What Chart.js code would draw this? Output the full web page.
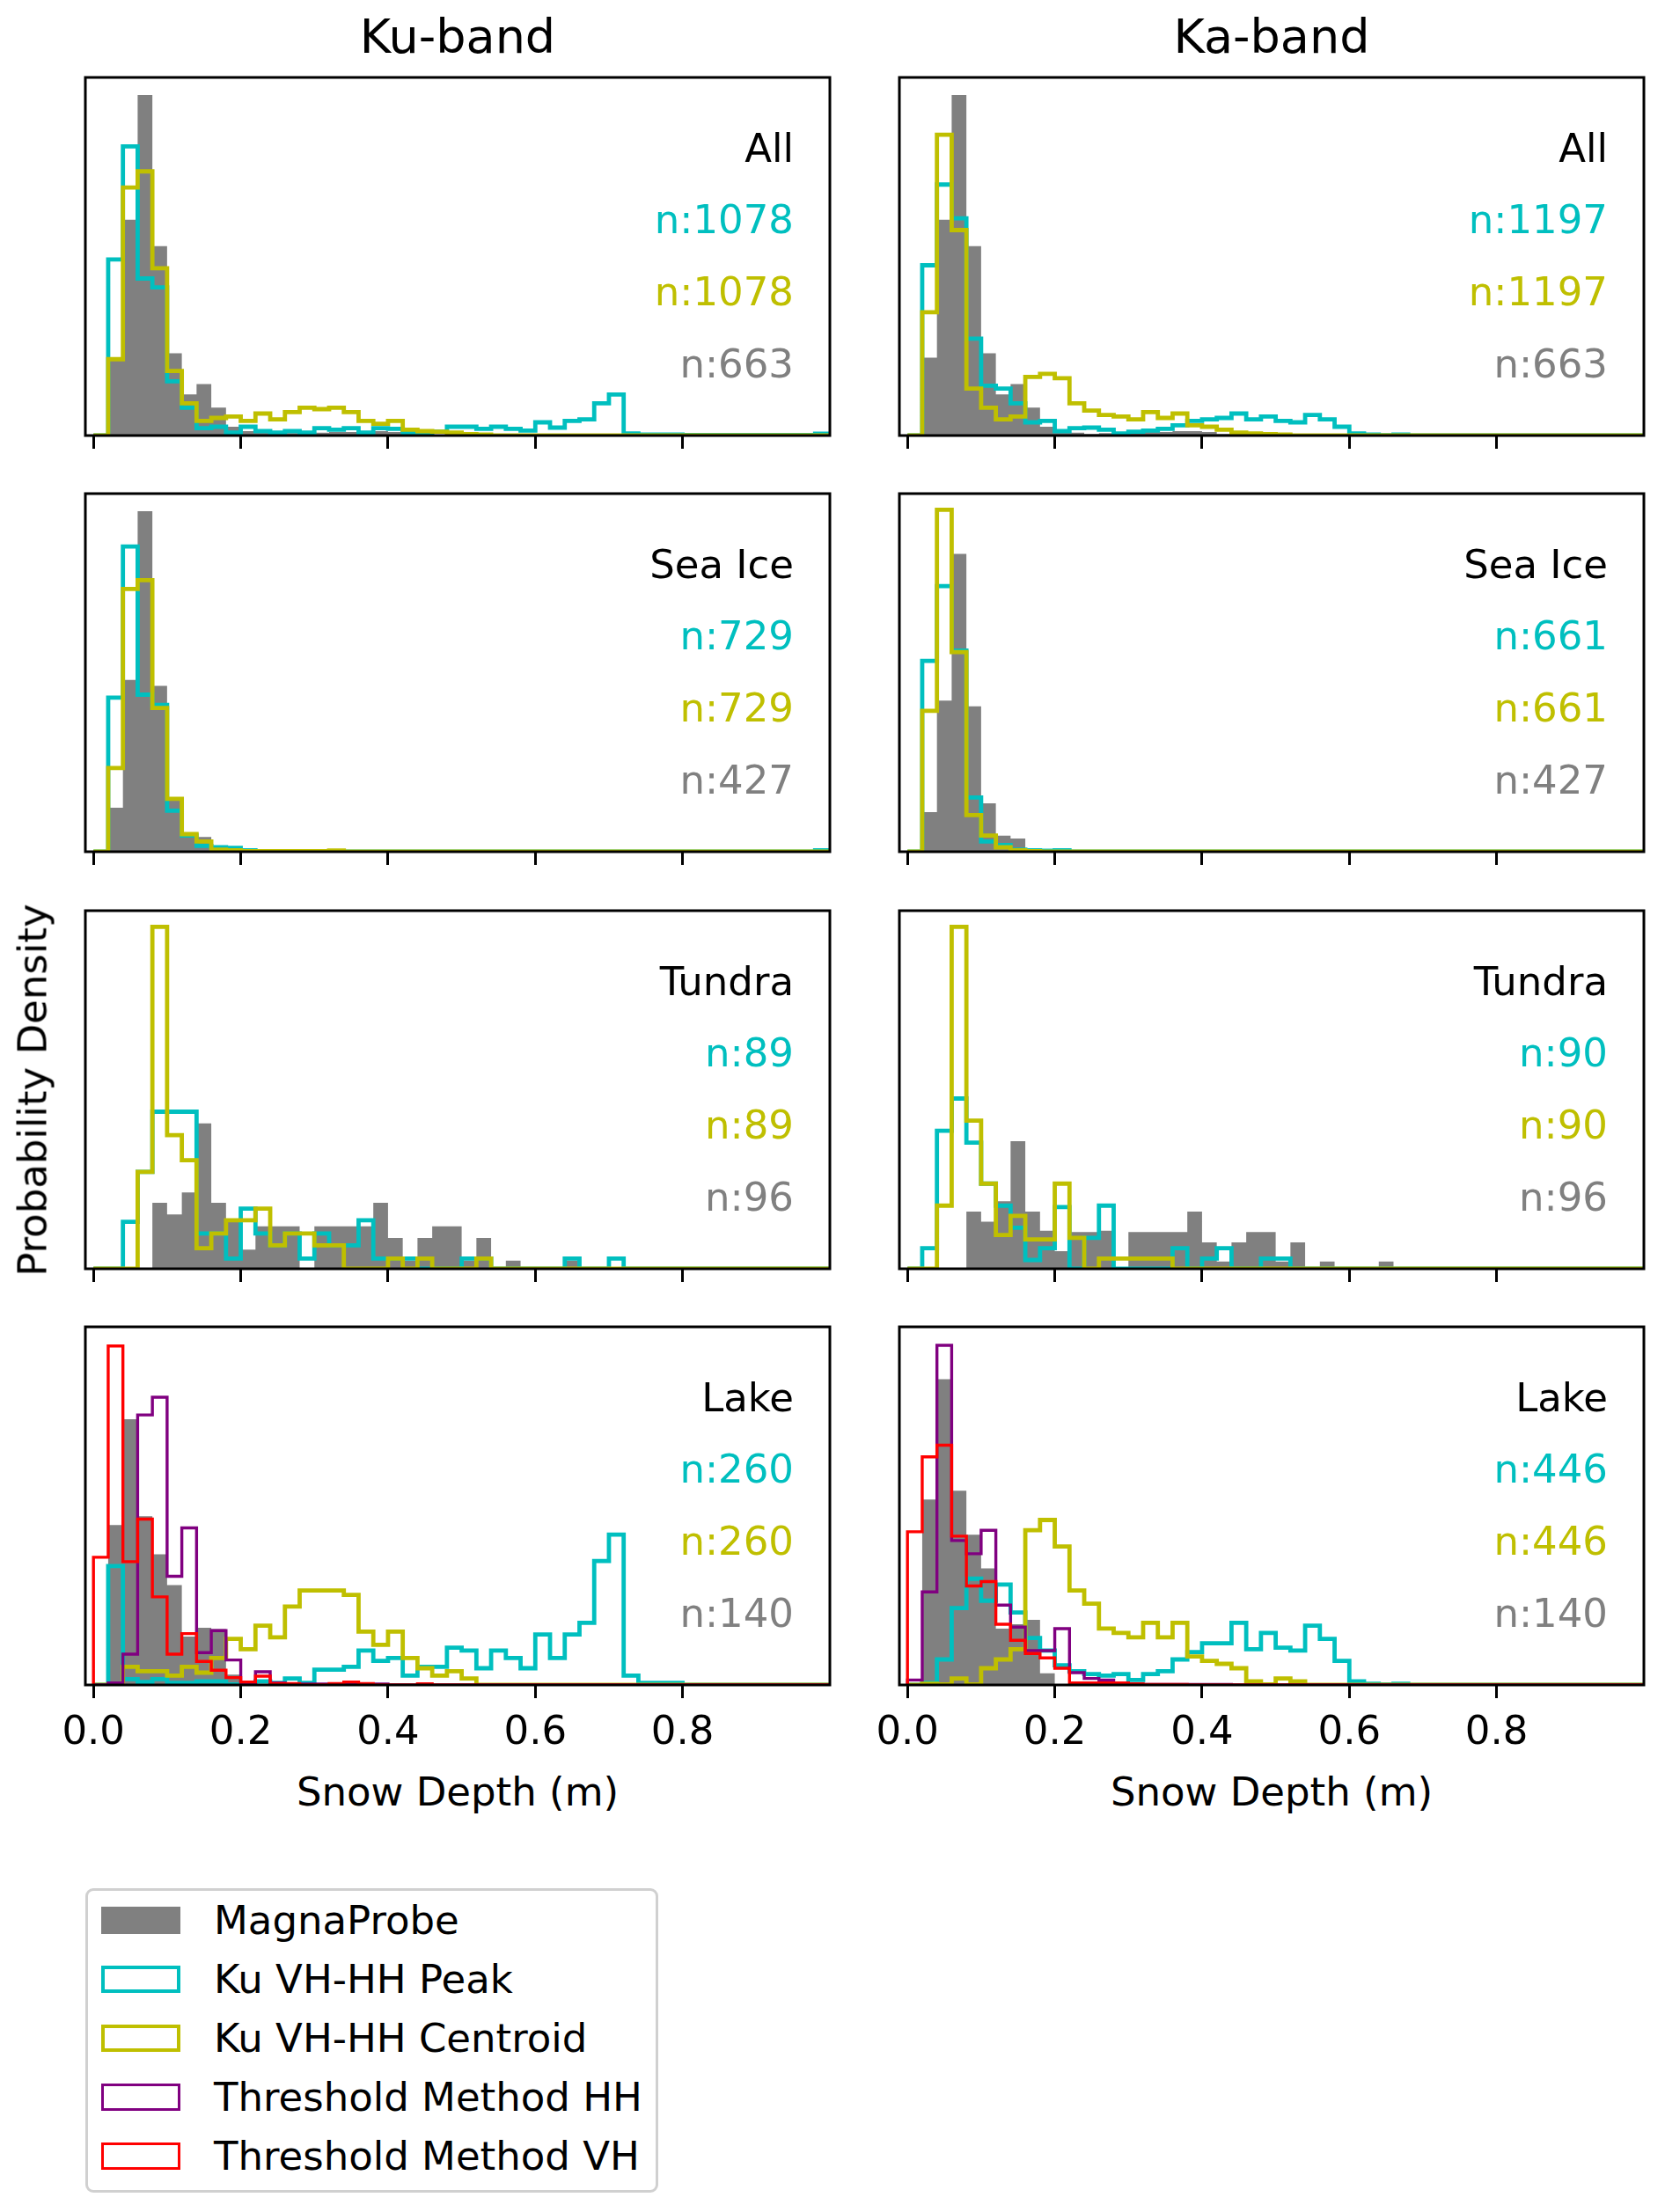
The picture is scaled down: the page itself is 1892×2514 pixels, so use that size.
<!DOCTYPE html>
<html>
<head>
<meta charset="utf-8">
<title>Snow depth distributions, Ku- and Ka-band</title>
<script src="https://cdn.jsdelivr.net/npm/chart.js@4.4.1/dist/chart.umd.min.js"></script>
<style>
  html, body { margin: 0; padding: 0; background: #fff; }
  #figure { position: relative; width: 1892px; height: 2514px; overflow: hidden;
            font-family: "DejaVu Sans", sans-serif; color: #000; }
  #figure canvas { position: absolute; }
  .txt { position: absolute; white-space: nowrap; line-height: 1; font-size: 45px; }
  .title { font-size: 54px; transform: translate(-50%, -50%); }
  .center { transform: translate(-50%, -50%); }
  .right { transform: translate(-100%, -50%); }
  .left { transform: translate(0, -50%); }
  .ylab { transform: translate(-50%, -50%) rotate(-90deg); }
  .legend { position: absolute; border: 3px solid #d0d0d0; border-radius: 9px; background: #fff; box-sizing: border-box; }
  .patch { position: absolute; box-sizing: border-box; }
</style>
</head>
<body>
<div id="figure"></div>
<script>
// ---- data ---------------------------------------------------------------
// histograms share 0.02 m bins starting at 0; heights are in panel units
// (Y_TOP = full panel height), bins not listed are empty
var BIN_WIDTH = 0.02;
var X_MIN = -0.011;
var X_MAX = 1.0;
var X_TICKS = [0, 0.2, 0.4, 0.6, 0.8];
var Y_TOP = 1220;

var bands = ['Ku-band', 'Ka-band'];
var surfaces = ['All', 'Sea Ice', 'Tundra', 'Lake'];
var seriesNames = ['MagnaProbe', 'Ku VH-HH Peak', 'Ku VH-HH Centroid', 'Threshold Method HH', 'Threshold Method VH'];
var seriesColors = ['#808080', '#00bfbf', '#bfbf00', '#800080', '#ff0000'];
var seriesWidths = [0, 4.8, 4.8, 3.4, 3.4];

// n labels per surface: [Peak, Centroid, MagnaProbe]
var kuCounts = [[1078, 1078, 663], [729, 729, 427], [89, 89, 96], [260, 260, 140]];
var kaCounts = [[1197, 1197, 663], [661, 661, 427], [90, 90, 96], [446, 446, 140]];

var kuAllMagna = [0, 265, 735, 1160, 645, 280, 140, 175, 95, 30, 15, 10, 5, 8, 8, 10, 12, 12, 15, 15, 12, 5, 3];
var kuAllPeak = [0, 600, 985, 535, 505, 185, 95, 25, 30, 10, 30, 15, 10, 15, 10, 25, 20, 25, 10, 25, 23, 10, 7, 13, 30,
  30, 23, 30, 23, 17, 45, 27, 50, 55, 110, 140, 7, 3, 3, 3, 2, 2, 2, 2, 2, 2, 2, 2, 2, 6];
var kuAllCentroid = [0, 260, 845, 900, 570, 220, 110, 50, 60, 65, 50, 75, 55, 80, 95, 90, 95, 80, 50, 40, 50, 20, 15, 13, 10, 5, 3];

var kaAllMagna = [0, 265, 735, 1160, 645, 280, 140, 175, 95, 30, 15, 10, 5, 8, 8, 10, 12, 12, 15, 15, 12, 5, 3];
var kaAllPeak = [0, 580, 855, 740, 330, 170, 160, 110, 45, 50, 15, 25, 27, 20, 7, 13, 17, 23, 35, 50, 55, 60, 75, 55, 65,
  50, 45, 70, 55, 30, 7, 3, 1, 3];
var kaAllCentroid = [0, 420, 1025, 700, 160, 95, 55, 65, 200, 210, 195, 110, 85, 70, 65, 55, 80, 60, 75, 35, 30, 20, 10, 7, 5, 3];

var kuSeaIceMagna = [0, 150, 585, 1160, 565, 185, 65, 50, 5];
var kuSeaIcePeak = [0, 525, 1040, 535, 500, 140, 55, 20, 15, 13, 5, 0, 0, 0, 0, 0, 0, 0, 0, 0, 0, 0, 0, 0, 0,
  0, 0, 0, 0, 0, 0, 0, 0, 0, 0, 0, 0, 0, 0, 0, 0, 0, 0, 0, 0, 0, 0, 0, 0, 5];
var kuSeaIceCentroid = [0, 285, 895, 925, 490, 180, 60, 35, 7, 5, 2, 2, 2, 2, 2, 2, 4];

var kaSeaIceMagna = [0, 135, 515, 1015, 495, 165, 55, 45, 10, 3];
var kaSeaIcePeak = [0, 650, 905, 685, 185, 35, 23, 7, 5, 3, 5];
var kaSeaIceCentroid = [0, 480, 1165, 680, 125, 55, 15, 5, 2];

var kuTundraMagna = [0, 0, 0, 0, 225, 185, 260, 495, 225, 160, 65, 145, 145, 145, 0, 145, 145, 145, 145, 225, 105, 28, 105,
  145, 145, 28, 105, 0, 28, 0, 0, 0, 28];
var kuTundraPeak = [0, 0, 160, 330, 535, 535, 535, 120, 120, 35, 205, 120, 80, 120, 35, 120, 80, 80, 165, 35, 35, 35, 0, 0,
  0, 35, 35, 0, 0, 0, 0, 0, 35, 0, 0, 35];
var kuTundraCentroid = [0, 0, 0, 330, 1165, 455, 370, 70, 120, 165, 165, 205, 80, 120, 120, 80, 80, 0, 0, 0, 35, 0, 35, 0, 0, 0, 35];

var kaTundraMagna = [0, 0, 0, 0, 195, 160, 230, 435, 195, 130, 60, 125, 125, 130, 0, 125, 125, 125, 125, 195, 90, 25, 90,
  125, 125, 25, 90, 0, 25, 0, 0, 0, 25];
var kaTundraPeak = [0, 70, 470, 580, 430, 290, 215, 140, 30, 70, 210, 0, 105, 215, 0, 0, 0, 0, 70, 0, 35, 70, 0, 0, 35, 35];
var kaTundraCentroid = [0, 0, 215, 1165, 505, 290, 115, 180, 100, 100, 290, 105, 0, 35, 35, 35, 35, 35];

var kuLakeMagna = [0, 545, 905, 575, 445, 340, 165, 195, 190, 35, 15];
var kuLakePeak = [0, 405, 20, 10, 20, 7, 7, 12, 12, 2, 2, 12, 7, 22, 7, 52, 52, 62, 117, 82, 92, 32, 62, 62, 127, 117, 57,
  117, 92, 57, 172, 92, 172, 212, 422, 512, 32, 7, 7, 7];
var kuLakeCentroid = [0, 2, 62, 47, 47, 32, 62, 42, 92, 157, 122, 202, 162, 267, 322, 322, 322, 307, 182, 137, 182, 92, 57, 32, 47, 22];
var kuLakeHH = [0, 7, 105, 920, 980, 370, 535, 110, 185, 85, 7, 45, 7, 3, 3, 3, 3, 3, 3, 3];
var kuLakeVH = [435, 1155, 420, 565, 300, 105, 175, 80, 50, 25, 10, 30, 5, 5, 0, 0, 5, 10, 5, 0, 0, 0, 4];

var kaLakeMagna = [0, 632, 1042, 662, 512, 397, 192, 207, 222, 40];
var kaLakePeak = [0, 7, 87, 262, 362, 287, 342, 247, 160, 117, 67, 47, 37, 32, 37, 17, 37, 47, 87, 112, 142, 142, 212, 122,
  177, 127, 117, 202, 157, 82, 12, 4, 2, 4];
var kaLakeCentroid = [0, 4, 2, 22, 2, 57, 87, 122, 527, 562, 472, 322, 277, 192, 177, 162, 212, 162, 212, 97, 82, 72, 57, 12, 2, 22, 12];
var kaLakeHH = [17, 317, 1157, 492, 447, 527, 272, 197, 117, 117, 192, 42, 22, 17, 7, 2, 2, 2, 2, 2, 2, 2];
var kaLakeVH = [522, 777, 817, 507, 337, 352, 207, 152, 107, 92, 57, 7, 7, 7, 7, 4, 2, 2, 2];

(function () {
  'use strict';

  // page layout (px)
  var PANEL_X = [97, 1022];
  var PANEL_Y = [88, 561, 1035, 1508];
  var PANEL_W = 846;
  var PANEL_H = 407;
  var PAD = 6;      // room above the frame
  var SIDE = 50;    // room left/right so tick labels never squeeze the plot

  var fig = document.getElementById('figure');
  Chart.defaults.font.family = '"DejaVu Sans", sans-serif';

  // [column][row] -> list of series, in legend order
  var panelSeries = [
    [
      [kuAllMagna, kuAllPeak, kuAllCentroid],
      [kuSeaIceMagna, kuSeaIcePeak, kuSeaIceCentroid],
      [kuTundraMagna, kuTundraPeak, kuTundraCentroid],
      [kuLakeMagna, kuLakePeak, kuLakeCentroid, kuLakeHH, kuLakeVH]
    ],
    [
      [kaAllMagna, kaAllPeak, kaAllCentroid],
      [kaSeaIceMagna, kaSeaIcePeak, kaSeaIceCentroid],
      [kaTundraMagna, kaTundraPeak, kaTundraCentroid],
      [kaLakeMagna, kaLakePeak, kaLakeCentroid, kaLakeHH, kaLakeVH]
    ]
  ];
  var panelCounts = [kuCounts, kaCounts];

  function addText(str, left, top, cls, color) {
    var el = document.createElement('div');
    el.className = 'txt ' + cls;
    el.textContent = str;
    el.style.left = left + 'px';
    el.style.top = top + 'px';
    if (color) el.style.color = color;
    fig.appendChild(el);
    return el;
  }

  /**
   * Outline of a step histogram: up at the first edge, across each bin,
   * down after the last listed bin, then along zero to the axis end.
   */
  function stepPoints(heights) {
    var pts = [{ x: 0, y: 0 }];
    for (var i = 0; i < heights.length; i++) {
      pts.push({ x: i * BIN_WIDTH, y: heights[i] });
    }
    pts.push({ x: heights.length * BIN_WIDTH, y: 0 });
    pts.push({ x: X_MAX, y: 0 });
    return pts;
  }

  // black box round the plot area, drawn over the histograms
  var framePlugin = {
    id: 'frame',
    afterDraw: function (chart) {
      var a = chart.chartArea;
      var ctx = chart.ctx;
      ctx.save();
      ctx.lineWidth = 3;
      ctx.strokeStyle = '#000';
      ctx.strokeRect(a.left, a.top, a.right - a.left, a.bottom - a.top);
      ctx.restore();
    }
  };

  function renderPanel(col, row) {
    var bottomRow = row === surfaces.length - 1;
    var axisH = bottomRow ? 90 : 20;
    var w = PANEL_W + 2 * SIDE;
    var h = PANEL_H + PAD + axisH;

    var canvas = document.createElement('canvas');
    canvas.width = w;
    canvas.height = h;
    canvas.style.left = (PANEL_X[col] - SIDE) + 'px';
    canvas.style.top = (PANEL_Y[row] - PAD) + 'px';
    canvas.style.width = w + 'px';
    canvas.style.height = h + 'px';
    fig.appendChild(canvas);

    var datasets = panelSeries[col][row].map(function (heights, k) {
      var filled = k === 0;
      return {
        label: seriesNames[k],
        data: stepPoints(heights),
        stepped: 'before',
        borderColor: filled ? 'rgba(0,0,0,0)' : seriesColors[k],
        borderWidth: seriesWidths[k],
        borderJoinStyle: 'miter',
        backgroundColor: seriesColors[k],
        fill: filled ? 'origin' : false,
        pointRadius: 0,
        tension: 0,
        order: seriesNames.length - k
      };
    });

    new Chart(canvas, {
      type: 'line',
      data: { datasets: datasets },
      options: {
        responsive: false,
        animation: false,
        events: [],
        layout: { padding: { left: SIDE, right: SIDE, top: PAD, bottom: 0 } },
        plugins: { legend: { display: false }, tooltip: { enabled: false } },
        scales: {
          x: {
            type: 'linear',
            min: X_MIN,
            max: X_MAX,
            afterBuildTicks: function (scale) {
              scale.ticks = X_TICKS.map(function (v) { return { value: v }; });
            },
            afterFit: function (scale) { scale.height = axisH; },
            ticks: {
              display: bottomRow,
              maxRotation: 0,
              autoSkip: false,
              padding: 13,
              color: '#000',
              font: { size: 45 },
              callback: function (v) { return Number(v).toFixed(1); }
            },
            grid: {
              display: true,
              drawOnChartArea: false,
              drawTicks: true,
              tickLength: 15,
              tickWidth: 3,
              tickColor: '#000'
            },
            border: { display: false }
          },
          y: { display: false, min: 0, max: Y_TOP }
        }
      },
      plugins: [framePlugin]
    });

    // surface name and sample sizes, right aligned inside the panel
    var rightX = PANEL_X[col] + PANEL_W - 41;
    var top = PANEL_Y[row];
    var counts = panelCounts[col][row];
    addText(surfaces[row], rightX, top + 80, 'right');
    addText('n:' + counts[0], rightX, top + 161, 'right', seriesColors[1]);
    addText('n:' + counts[1], rightX, top + 243, 'right', seriesColors[2]);
    addText('n:' + counts[2], rightX, top + 325, 'right', seriesColors[0]);
  }

  for (var c = 0; c < bands.length; c++) {
    addText(bands[c], PANEL_X[c] + PANEL_W / 2, 42, 'title');
    addText('Snow Depth (m)', PANEL_X[c] + PANEL_W / 2, 2036, 'center');
    for (var r = 0; r < surfaces.length; r++) {
      renderPanel(c, r);
    }
  }
  addText('Probability Density', 37, PANEL_Y[2] + PANEL_H / 2, 'ylab');

  // legend box
  var legend = document.createElement('div');
  legend.className = 'legend';
  legend.style.left = '97px';
  legend.style.top = '2146px';
  legend.style.width = '651px';
  legend.style.height = '346px';
  fig.appendChild(legend);

  seriesNames.forEach(function (name, k) {
    var cy = 2182 + 67 * k;
    var patch = document.createElement('div');
    patch.className = 'patch';
    patch.style.left = '115px';
    patch.style.top = (cy - 15) + 'px';
    patch.style.width = '90px';
    patch.style.height = '31px';
    if (k === 0) {
      patch.style.background = seriesColors[0];
    } else {
      patch.style.border = (k < 3 ? 4.5 : 3.5) + 'px solid ' + seriesColors[k];
    }
    fig.appendChild(patch);
    addText(name, 243, cy, 'left');
  });
})();
</script>
</body>
</html>
